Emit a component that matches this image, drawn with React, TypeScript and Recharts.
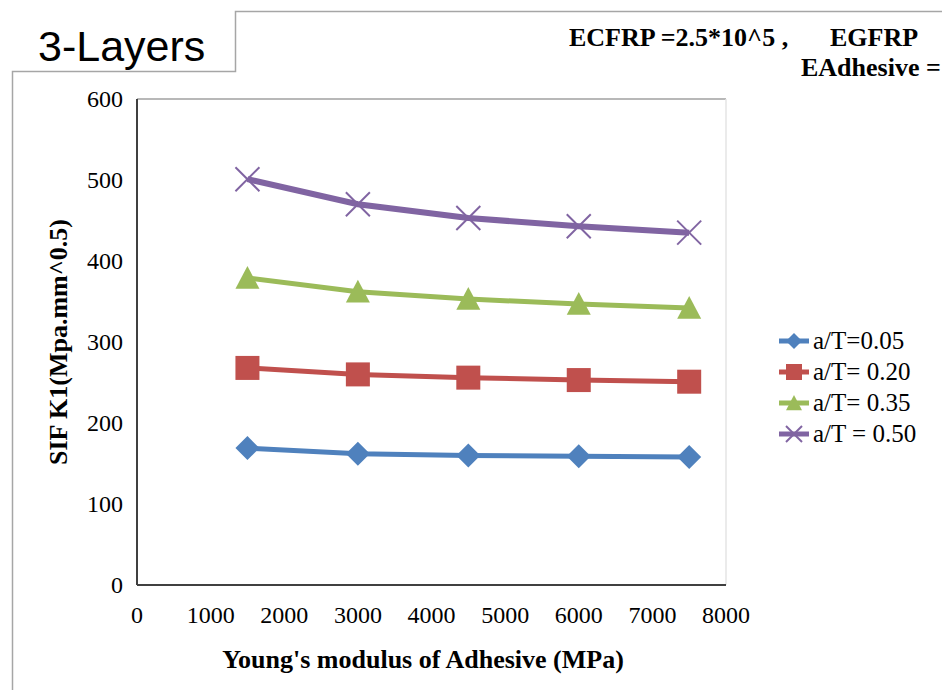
import React from 'react';
import {
  LineChart,
  Line,
  XAxis,
  YAxis,
  Legend,
  ReferenceLine,
} from 'recharts';

// values
const modulus = [1500, 3000, 4500, 6000, 7500];
const k1At005 = [169, 162, 160, 159, 158];
const k1At020 = [268, 260, 256, 253, 251];
const k1At035 = [379, 362, 353, 347, 342];
const k1At050 = [501, 470, 453, 443, 435];

const xTicks = [0, 1000, 2000, 3000, 4000, 5000, 6000, 7000, 8000];
const yTicks = [0, 100, 200, 300, 400, 500, 600];

const seriesNames = ['a/T=0.05', 'a/T= 0.20', 'a/T= 0.35', 'a/T = 0.50'];

const data = modulus.map((x, i) => ({
  x,
  s1: k1At005[i],
  s2: k1At020[i],
  s3: k1At035[i],
  s4: k1At050[i],
}));

const COLORS = {
  s1: '#4F81BD',
  s2: '#C0504D',
  s3: '#9BBB59',
  s4: '#8064A2',
};

const serif = '"Times New Roman", "Liberation Serif", serif';

function Marker({ kind, cx, cy, r, color }: any) {
  if (kind === 's1') {
    return (
      <path
        d={`M${cx} ${cy - r}L${cx + r} ${cy}L${cx} ${cy + r}L${cx - r} ${cy}Z`}
        fill={color}
      />
    );
  }
  if (kind === 's2') {
    return (
      <rect x={cx - r} y={cy - r} width={r * 2} height={r * 2} fill={color} />
    );
  }
  if (kind === 's3') {
    return (
      <path
        d={`M${cx} ${cy - r}L${cx + r} ${cy + r * 0.9}L${cx - r} ${cy + r * 0.9}Z`}
        fill={color}
      />
    );
  }
  return (
    <g stroke={color} strokeWidth={2}>
      <line x1={cx - r} y1={cy - r} x2={cx + r} y2={cy + r} />
      <line x1={cx - r} y1={cy + r} x2={cx + r} y2={cy - r} />
    </g>
  );
}

const makeDot = (kind: string) => (props: any) => (
  <Marker
    key={`${kind}-${props.index}`}
    kind={kind}
    cx={props.cx}
    cy={props.cy}
    r={12}
    color={COLORS[kind as keyof typeof COLORS]}
  />
);

function LegendBox(props: any) {
  const items = [...(props.payload || [])].sort((a: any, b: any) =>
    String(a.dataKey).localeCompare(String(b.dataKey))
  );
  return (
    <div style={{ fontFamily: serif, fontSize: 25, color: '#000' }}>
      {items.map((p: any) => (
        <div
          key={p.dataKey}
          style={{ display: 'flex', alignItems: 'center', height: 31 }}
        >
          <svg width={36} height={31} style={{ display: 'block' }}>
            <line x1={2} y1={16} x2={32} y2={16} stroke={p.color} strokeWidth={5} />
            <Marker kind={p.dataKey} cx={17} cy={16} r={8} color={p.color} />
          </svg>
          <span style={{ whiteSpace: 'pre', lineHeight: '31px' }}>{p.value}</span>
        </div>
      ))}
    </div>
  );
}

const tickStyle = { fontFamily: serif, fontSize: 24, fill: '#000' };

const XTick = ({ x, y, payload }: any) => (
  <text x={x} y={y + 17} textAnchor='middle' style={tickStyle}>
    {payload.value}
  </text>
);

const YTick = ({ x, y, payload }: any) => (
  <text x={x} y={y + 8} textAnchor='end' style={tickStyle}>
    {payload.value}
  </text>
);

const titleStyle = {
  fontFamily: serif,
  fontSize: 26,
  fontWeight: 'bold' as const,
  fill: '#000',
};

export default function App() {
  return (
    <div
      style={{
        position: 'absolute',
        left: 0,
        top: 0,
        width: 942,
        height: 690,
        background: '#fff',
        overflow: 'hidden',
      }}
    >
      <svg
        width={942}
        height={690}
        style={{ position: 'absolute', left: 0, top: 0 }}
      >
        <polyline
          points='942,11.5 235.5,11.5 235.5,71.5 12.5,71.5 12.5,690'
          fill='none'
          stroke='#a6a6a6'
          strokeWidth={1.5}
        />
        <text
          x={38}
          y={61}
          fontFamily='"Liberation Sans", Arial, sans-serif'
          fontSize={43}
          fill='#000'
        >
          3-Layers
        </text>
        <g fontFamily={serif} fontSize={26} fontWeight='bold' fill='#000'>
          <text x={569} y={46}>ECFRP =2.5*10^5 ,</text>
          <text x={830} y={46}>EGFRP</text>
          <text x={801} y={76}>EAdhesive =</text>
        </g>
        <text x={423} y={668} textAnchor='middle' style={titleStyle}>
          Young's modulus of Adhesive (MPa)
        </text>
        <text
          x={67}
          y={342}
          transform='rotate(-90, 67, 342)'
          textAnchor='middle'
          style={titleStyle}
        >
          SIF K1(Mpa.mm^0.5)
        </text>
      </svg>
      <div style={{ position: 'absolute', left: 0, top: 0 }}>
        <LineChart
          width={942}
          height={690}
          data={data}
          margin={{ top: 99, right: 216, bottom: 75, left: 77 }}
        >
          <ReferenceLine y={600} stroke='#b8b8b8' strokeWidth={2} />
          <ReferenceLine x={8000} stroke='#e4e4e4' strokeWidth={1.5} />
          <XAxis
            dataKey='x'
            type='number'
            domain={[0, 8000]}
            ticks={xTicks}
            height={30}
            tickSize={0}
            tickMargin={21}
            axisLine={{ stroke: '#404040', strokeWidth: 2 }}
            tick={<XTick />}
            interval={0}
          />
          <YAxis
            type='number'
            domain={[0, 600]}
            ticks={yTicks}
            width={60}
            tickSize={0}
            tickMargin={14}
            axisLine={{ stroke: '#404040', strokeWidth: 2 }}
            tick={<YTick />}
            interval={0}
          />
          <Legend
            layout='vertical'
            align='center'
            verticalAlign='middle'
            content={<LegendBox />}
            wrapperStyle={{ left: 777, top: 325, width: 165, height: 124 }}
          />
          <Line
            dataKey='s1'
            name={seriesNames[0]}
            stroke={COLORS.s1}
            strokeWidth={5}
            dot={makeDot('s1')}
            activeDot={false}
            isAnimationActive={false}
          />
          <Line
            dataKey='s2'
            name={seriesNames[1]}
            stroke={COLORS.s2}
            strokeWidth={5}
            dot={makeDot('s2')}
            activeDot={false}
            isAnimationActive={false}
          />
          <Line
            dataKey='s3'
            name={seriesNames[2]}
            stroke={COLORS.s3}
            strokeWidth={5}
            dot={makeDot('s3')}
            activeDot={false}
            isAnimationActive={false}
          />
          <Line
            dataKey='s4'
            name={seriesNames[3]}
            stroke={COLORS.s4}
            strokeWidth={6}
            dot={makeDot('s4')}
            activeDot={false}
            isAnimationActive={false}
          />
        </LineChart>
      </div>
    </div>
  );
}
